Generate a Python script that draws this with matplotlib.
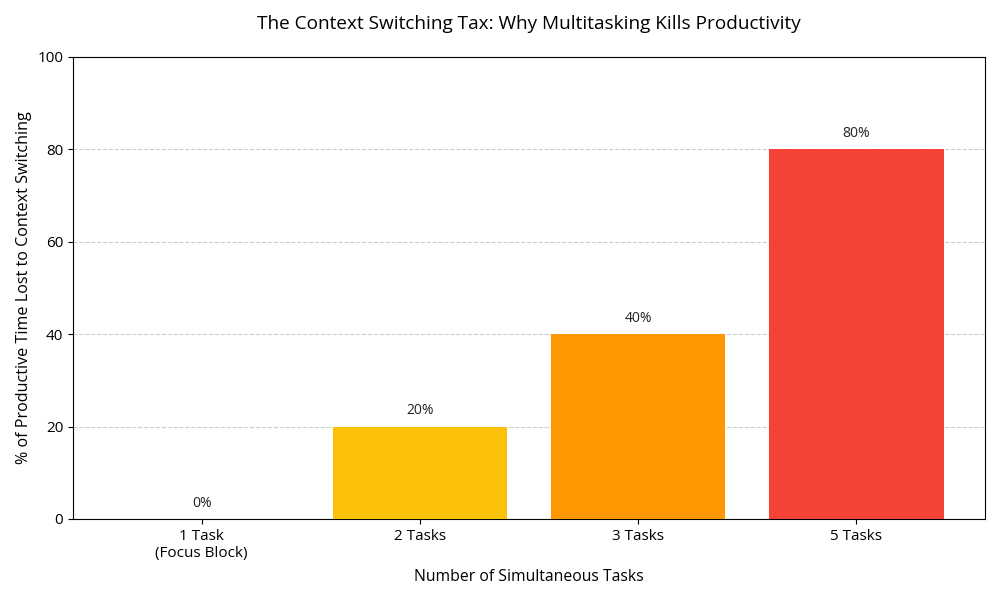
import matplotlib
matplotlib.use("Agg")
import matplotlib.pyplot as plt

plt.rcParams['font.family'] = ['Open Sans', 'DejaVu Sans']

categories = ["1 Task\n(Focus Block)", "2 Tasks", "3 Tasks", "5 Tasks"]
lost_pct = [0, 20, 40, 80]
bar_colors = ["#4CAF50", "#FBC00A", "#FF9800", "#F44336"]

fig, ax = plt.subplots(figsize=(10, 6), dpi=100)
fig.subplots_adjust(left=0.073, right=0.985, top=0.905, bottom=0.135)

x = range(len(categories))
bars = ax.bar(x, lost_pct, color=bar_colors, width=0.8, zorder=3)

for b, v in zip(bars, lost_pct):
    ax.annotate(f"{v}%", (b.get_x() + b.get_width() / 2, v),
                xytext=(0, 6), textcoords="offset points",
                ha="center", va="bottom", fontsize=10, color="#222222")

ax.set_xticks(list(x))
ax.set_xticklabels(categories, fontsize=11)
ax.set_ylim(0, 100)
ax.set_yticks(range(0, 101, 20))
ax.tick_params(axis="y", labelsize=11)
ax.grid(axis="y", linestyle="--", color="#cccccc", linewidth=0.8, zorder=0)
ax.set_axisbelow(True)

ax.set_xlabel("Number of Simultaneous Tasks", fontsize=11.3, labelpad=6)
ax.set_ylabel("% of Productive Time Lost to Context Switching", fontsize=11.6)
ax.set_title("The Context Switching Tax: Why Multitasking Kills Productivity",
             fontsize=13.7, pad=20)

fig.savefig("out.png", dpi=100)
